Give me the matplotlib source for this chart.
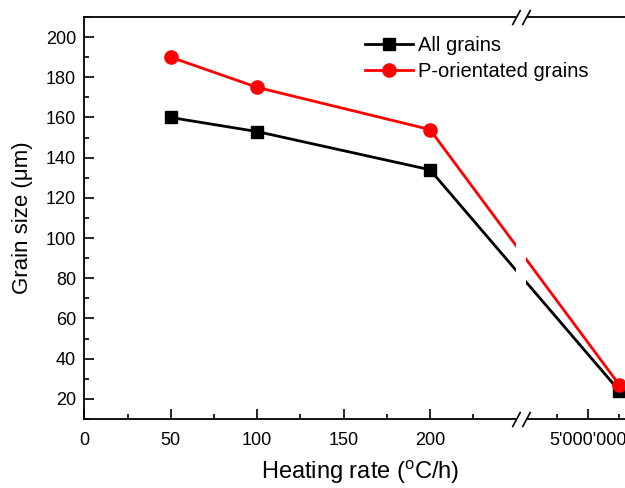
import numpy as np
import matplotlib
matplotlib.use("Agg")
import matplotlib.pyplot as plt
from matplotlib.path import Path
from matplotlib.patches import Rectangle
from matplotlib.transforms import blended_transform_factory
from matplotlib.ticker import FixedLocator, FixedFormatter

plt.rcParams['font.family'] = ['Liberation Sans', 'DejaVu Sans']

# ---- data ----
heating_rate = [50, 100, 200, 5500000]
all_grains = [160, 153, 134, 24]
p_grains = [190, 175, 154, 27]
x_major = [0, 50, 100, 150, 200, 5000000]
x_major_labels = ['0', '50', '100', '150', '200', "5'000'000"]
x_minor = [25, 75, 125, 175, 225, 4500000, 5500000]
y_major = [20, 40, 60, 80, 100, 120, 140, 160, 180, 200]

# ---- broken-axis scale (piecewise linear) ----
bx = np.array([0.0, 250.0, 4.0e6, 6.0e6])
bu = np.array([0.0, 432.1, 442.0, 442.0 + 2.0e6 * 31 / 5e5])

def _pw(x, xs, us):
    x = np.asarray(x, dtype=float)
    out = np.interp(x, xs, us)
    lo = x < xs[0]
    hi = x > xs[-1]
    s0 = (us[1] - us[0]) / (xs[1] - xs[0])
    s1 = (us[-1] - us[-2]) / (xs[-1] - xs[-2])
    out = np.where(lo, us[0] + (x - xs[0]) * s0, out)
    out = np.where(hi, us[-1] + (x - xs[-1]) * s1, out)
    return out

fwd = lambda x: _pw(x, bx, bu)
inv = lambda u: _pw(u, bu, bx)

fig = plt.figure(figsize=(6.25, 4.88), dpi=100)
W, H = 625, 488
ax = fig.add_axes([84.3 / W, 1 - 419 / H, (625 - 84.3) / W, (419 - 17) / H])
ax.set_xscale('function', functions=(fwd, inv))
ax.set_xlim(0, inv(540.7))
ax.set_ylim(10, 210)

lw = 2.0
ax.plot(heating_rate, all_grains, color='black', lw=lw, marker='s', ms=8.5,
        label='All grains', zorder=3, clip_on=False)
ax.plot(heating_rate, p_grains, color='red', lw=lw, marker='o', ms=9.5,
        label='P-orientated grains', zorder=4, clip_on=False)

# ticks
ax.xaxis.set_major_locator(FixedLocator(x_major))
ax.xaxis.set_major_formatter(FixedFormatter(x_major_labels))
ax.xaxis.set_minor_locator(FixedLocator(x_minor))
ax.yaxis.set_major_locator(FixedLocator(y_major))
ax.yaxis.set_minor_locator(FixedLocator([v - 10 for v in y_major] + [210]))
ax.tick_params(which='both', direction='in', top=False, right=False, width=1.2)
ax.tick_params(which='major', length=7, labelsize=13)
ax.tick_params(which='minor', length=3.5)
ax.tick_params(axis='x', which='major', pad=9.5)
ax.tick_params(axis='y', which='major', pad=6)
for s in ['left', 'bottom', 'top']:
    ax.spines[s].set_linewidth(1.3)
ax.spines['right'].set_visible(False)

# break gap
bt = blended_transform_factory(ax.transData, ax.transAxes)
ax.add_patch(Rectangle((250, -0.05), 4.0e6 - 250, 1.1, transform=bt,
                       facecolor='white', edgecolor='none', zorder=10, clip_on=False))
slash = Path([(-0.27, -0.5), (0.27, 0.5)], [Path.MOVETO, Path.LINETO])
for yy in (0, 1):
    ax.plot([250, 4.0e6], [yy, yy], transform=bt, linestyle='none', marker=slash,
            ms=11, mec='black', mew=1.2, zorder=11, clip_on=False)

ax.set_xlabel(r'Heating rate ($\mathregular{^o}$C/h)', fontsize=17)
ax.xaxis.set_label_coords(0.51, -0.098)
ax.set_ylabel('Grain size (μm)', fontsize=16, labelpad=9)

leg = ax.legend(loc='upper left', bbox_to_anchor=(0.504, 0.972), frameon=False,
                fontsize=14.5, handlelength=2.4, handletextpad=0.25, labelspacing=0.35,
                borderaxespad=0)
leg.set_zorder(20)

fig.savefig('out.png', dpi=100)
